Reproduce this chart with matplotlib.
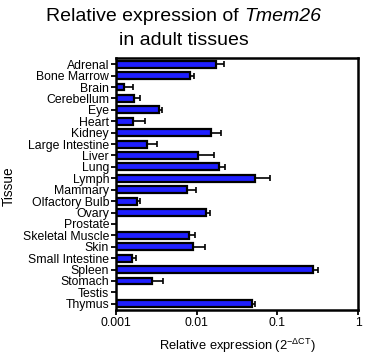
import matplotlib
matplotlib.use("Agg")
import matplotlib.pyplot as plt
import numpy as np

plt.rcParams['font.family'] = ['Liberation Sans', 'DejaVu Sans']
plt.rcParams['mathtext.fontset'] = 'custom'
plt.rcParams['mathtext.rm'] = 'Liberation Sans'
plt.rcParams['mathtext.it'] = 'Liberation Sans:italic'
plt.rcParams['mathtext.sf'] = 'Liberation Sans'

tissues = ["Adrenal", "Bone Marrow", "Brain", "Cerebellum", "Eye", "Heart", "Kidney",
           "Large Intestine", "Liver", "Lung", "Lymph", "Mammary", "Olfactory Bulb",
           "Ovary", "Prostate", "Skeletal Muscle", "Skin", "Small Intestine", "Spleen",
           "Stomach", "Testis", "Thymus"]
means = [0.0173, 0.00828, 0.00127, 0.00166, 0.00339, 0.00161, 0.0152,
         0.0024, 0.0104, 0.0188, 0.053, 0.00753, 0.0018,
         0.0132, np.nan, 0.00811, 0.00894, 0.0016, 0.276,
         0.00282, np.nan, 0.049]
err_upper = [0.0219, 0.0093, 0.00164, 0.0020, 0.00372, 0.00231, 0.0202,
             0.00326, 0.0166, 0.0225, 0.0807, 0.00984, 0.00197,
             0.0148, np.nan, 0.00946, 0.0128, 0.00175, 0.318,
             0.0038, np.nan, 0.0535]
xticks = [0.001, 0.01, 0.1, 1]
xticklabels = ["0.001", "0.01", "0.1", "1"]

W, H = 368, 361
fig = plt.figure(figsize=(W/100, H/100), dpi=100)
ax = fig.add_axes([116/W, 1-310/H, (358-116)/W, (310-58)/H])

y = np.arange(len(tissues))
m = np.array(means)
e = np.array(err_upper)
base = 0.001
ax.barh(y, m - base, left=base, height=0.6, color='#1f1fff', edgecolor='black', linewidth=1.6)
xerr = np.vstack([np.zeros_like(m), e - m])
ax.errorbar(m, y, xerr=xerr, fmt='none', ecolor='black', elinewidth=1.2, capsize=2.2, capthick=1.2)

ax.set_xscale('log')
ax.set_xlim(0.001, 1)
ax.set_ylim(len(tissues) - 0.45, -0.55)
ax.set_xticks(xticks)
ax.set_xticklabels(xticklabels)
ax.xaxis.set_minor_locator(matplotlib.ticker.NullLocator())
ax.set_yticks(y)
ax.set_yticklabels(tissues)
ax.tick_params(axis='both', labelsize=8.8, width=1.3, length=3.5, direction='out', pad=1.5)
for s in ax.spines.values():
    s.set_linewidth(1.8)

ax.set_xlabel(r"Relative expression (2$^{-\Delta\mathrm{CT}}$)", fontsize=9.3, labelpad=6)
fig.text(9/W, 1-186/H, "Tissue", rotation=90, ha='center', va='center', fontsize=9.8)

# Title: two lines, with italic gene name
title_fs = 14
part1 = "Relative expression of "
part2 = "Tmem26"
renderer = fig.canvas.get_renderer()
t1 = fig.text(0, 0, part1, fontsize=title_fs)
t2 = fig.text(0, 0, part2, fontsize=title_fs, style='italic')
w1 = t1.get_window_extent(renderer).width
w2 = t2.get_window_extent(renderer).width
# measure with trailing space preserved
sp = fig.text(0, 0, "a a", fontsize=title_fs)
sa = fig.text(0, 0, "aa", fontsize=title_fs)
space_w = sp.get_window_extent(renderer).width - sa.get_window_extent(renderer).width
sp.remove(); sa.remove()
t1.set_text(part1.strip())
w1 = t1.get_window_extent(renderer).width + space_w
total = w1 + w2
x0 = (W - total) / 2
y1 = 1 - 21/H
t1.set_position((x0/W, y1)); t1.set_va('baseline'); t1.set_ha('left')
t2.set_position(((x0 + w1)/W, y1)); t2.set_va('baseline'); t2.set_ha('left')
fig.text(0.5, 1 - 45/H, "in adult tissues", fontsize=title_fs, ha='center', va='baseline')

fig.savefig("out.png", dpi=100)
